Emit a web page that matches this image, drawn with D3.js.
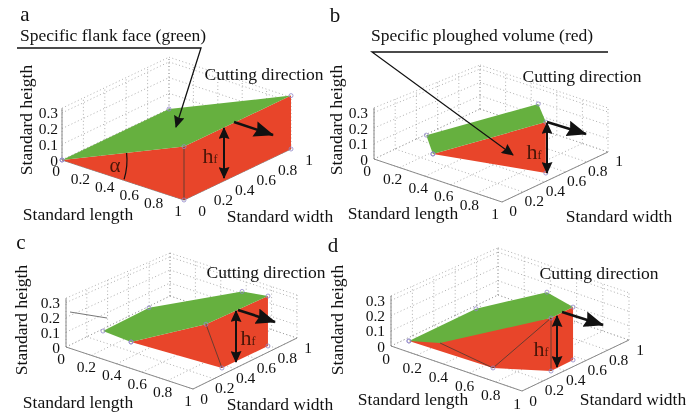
<!DOCTYPE html>
<html>
<head>
<meta charset="utf-8">
<script src="https://cdn.jsdelivr.net/npm/d3@7"></script>
<style>
  html, body { margin: 0; padding: 0; background: #fff; }
  svg { filter: blur(0.35px); }
  text { font-family: "Liberation Serif", serif; fill: #111; }
</style>
</head>
<body>
<div id="chart"></div>
<script>
// Shared axis ticks
const lengthTicks = [0, 0.2, 0.4, 0.6, 0.8, 1];
const widthTicks = [0, 0.2, 0.4, 0.6, 0.8, 1];
const heightTicks = [0, 0.1, 0.2, 0.3];
const heightTop = 0.33;

// Surface vertices as [length, width, height]
const greenA = [[0, 0, 0], [1, 0, 0.34], [1, 1, 0.34], [0, 1, 0]];
const redA = [[0, 0, 0], [1, 0, 0.34], [1, 1, 0.34], [1, 1, 0], [1, 0, 0]];
const edgesA = [[[1, 0, 0], [1, 0, 0.34]]];

const greenB = [[0.22, 0.29, 0], [0.16, 0.30, 0.106], [0.72, 0.68, 0.371], [0.92, 0.51, 0.354]];
const redB = [[0.22, 0.29, 0], [0.92, 0.51, 0.354], [0.92, 0.51, 0]];
const edgesB = [];

const greenC = [[0.16, 0.16, 0.1], [0.426, 0.278, 0.3], [0.759, 0.766, 0.36], [0.94, 0.794, 0.373], [0.85, 0.308, 0.3], [0.258, 0.31, 0]];
const redC = [[0.258, 0.31, 0], [0.85, 0.308, 0.3], [0.94, 0.794, 0.373], [0.94, 0.794, 0], [0.935, 0.358, 0]];
const edgesC = [[[0.85, 0.308, 0.3], [0.935, 0.358, 0]]];

// the kink on the lower green edge has no marker in the original
const kinkD = [0.19, 0.226, 0];
const greenD = [[0.033, 0.127, 0], [0.449, 0.245, 0.3], [0.667, 0.641, 0.35], [0.938, 0.553, 0.36], [0.943, 0.341, 0.356], kinkD];
const redD = [[0.033, 0.127, 0], [0.943, 0.341, 0.356], [0.938, 0.553, 0.36], [0.938, 0.553, 0], [0.943, 0.341, 0], [0.657, 0.149, 0]];
const edgesD = [
  [kinkD, [0.657, 0.149, 0]],
  [[0.657, 0.149, 0], [0.943, 0.341, 0.356]],
  [[0.943, 0.341, 0.356], [0.943, 0.341, 0]]
];

const margin = { top: 0, right: 0, bottom: 0, left: 0 };
const width = 699 - margin.left - margin.right;
const height = 414 - margin.top - margin.bottom;

const red = "#e8452a";
const green = "#66b03f";

const svg = d3.select("#chart").append("svg")
    .attr("width", width)
    .attr("height", height)
    .style("display", "block");

const defs = svg.append("defs");
function addHead(id, w, h, refX) {
  defs.append("marker")
      .attr("id", id)
      .attr("markerUnits", "userSpaceOnUse")
      .attr("markerWidth", w)
      .attr("markerHeight", h)
      .attr("refX", refX)
      .attr("refY", h / 2)
      .attr("orient", "auto-start-reverse")
      .append("path")
      .attr("d", `M0,0L${w},${h / 2}L0,${h}L${w * 0.12},${h / 2}Z`)
      .attr("fill", "#111");
}
addHead("head-small", 12, 11, 11);
addHead("head-big", 20, 16, 19);

// Each panel: where the box sits on the page and its labels
const panels = [
  {
    letter: "a", letterAt: [25, 14], green: greenA, red: redA, edges: edgesA,
    origin: [62, 160], lengthVec: [122, 40], widthVec: [107, -51], heightPx: 157, shrink: 0,
    lengthOff: [-6, 10], widthOff: [18, 10], heightOff: -4,
    heigthAt: [26, 120], lengthAt: [78, 214], widthAt: [280, 216], cuttingAt: [264, 74],
    hArrow: [[224, 128], [224, 178]], hfAt: [210, 155], cutArrow: [[234, 122], [273, 135]]
  },
  {
    letter: "b", letterAt: [335, 15], green: greenB, red: redB, edges: edgesB,
    origin: [374, 159], lengthVec: [128, 43], widthVec: [106, -50], heightPx: 155, shrink: 0.14,
    lengthOff: [-7, 11], widthOff: [11, 8], heightOff: -6,
    heigthAt: [336, 120], lengthAt: [403, 213], widthAt: [619, 216], cuttingAt: [582, 76],
    hArrow: [[547, 123], [547, 173]], hfAt: [534, 151], cutArrow: [[547, 122], [586, 134]]
  },
  {
    letter: "c", letterAt: [21, 242], green: greenC, red: redC, edges: edgesC,
    origin: [66, 347], lengthVec: [127, 42], widthVec: [104, -51], heightPx: 148, shrink: 0.12,
    lengthOff: [-5, 11], widthOff: [11, 9], heightOff: -6,
    heigthAt: [21, 320], lengthAt: [78, 402], widthAt: [280, 404], cuttingAt: [266, 272],
    hArrow: [[236, 311], [236, 362]], hfAt: [248, 337], cutArrow: [[238, 310], [275, 322]]
  },
  {
    letter: "d", letterAt: [333, 245], green: greenD, red: redD, edges: edgesD,
    origin: [391, 346], lengthVec: [131, 45], widthVec: [107, -51], heightPx: 152, shrink: 0.06,
    lengthOff: [-5, 12], widthOff: [11, 9], heightOff: -6,
    heigthAt: [337, 320], lengthAt: [413, 399], widthAt: [633, 399], cuttingAt: [599, 273],
    hArrow: [[557, 316], [557, 367]], hfAt: [541, 348], cutArrow: [[562, 312], [603, 325]]
  }
];

function drawPanel(p) {
  const g = svg.append("g").attr("class", "panel-" + p.letter);

  // Oblique box: length and width each move along x and y on the page
  const lenX = d3.scaleLinear().domain([0, 1]).range([0, p.lengthVec[0]]);
  const lenY = d3.scaleLinear().domain([0, 1]).range([0, p.lengthVec[1]]);
  const widX = d3.scaleLinear().domain([0, 1]).range([0, p.widthVec[0]]);
  const widY = d3.scaleLinear().domain([0, 1]).range([0, p.widthVec[1]]);
  const hgt = d3.scaleLinear().domain([0, 1]).range([0, p.heightPx]);

  const px = d => p.origin[0] + lenX(d[0]) + widX(d[1]);
  const py = d => p.origin[1] + lenY(d[0]) + widY(d[1]) - hgt(d[2]) * (1 - p.shrink * d[1]);
  const line = d3.line().x(px).y(py);
  const closed = d3.line().x(px).y(py).curve(d3.curveLinearClosed);

  // Dotted grid on the floor and the two back walls
  const gridLines = [];
  lengthTicks.forEach(l => {
    gridLines.push([[l, 0, 0], [l, 1, 0]]);
    gridLines.push([[l, 1, 0], [l, 1, heightTop]]);
  });
  widthTicks.forEach(w => {
    gridLines.push([[0, w, 0], [1, w, 0]]);
    gridLines.push([[0, w, 0], [0, w, heightTop]]);
  });
  heightTicks.concat([heightTop]).forEach(h => {
    gridLines.push([[0, 0, h], [0, 1, h]]);
    gridLines.push([[0, 1, h], [1, 1, h]]);
  });
  g.selectAll(".grid").data(gridLines).enter().append("path")
      .attr("class", "grid")
      .attr("d", line)
      .attr("fill", "none")
      .attr("stroke", "#9a9a9a")
      .attr("stroke-width", 0.8)
      .attr("stroke-dasharray", "1 2.5");

  // Solid axes
  const axisLines = [
    [[0, 0, 0], [1, 0, 0]],
    [[1, 0, 0], [1, 1, 0]],
    [[0, 0, 0], [0, 0, heightTop]]
  ];
  g.selectAll(".axis").data(axisLines).enter().append("path")
      .attr("class", "axis")
      .attr("d", line)
      .attr("fill", "none")
      .attr("stroke", "#8a8a8a")
      .attr("stroke-width", 1);

  // Surfaces
  g.append("path").attr("d", closed(p.red)).attr("fill", red);
  g.append("path").attr("d", closed(p.green)).attr("fill", green);

  g.selectAll(".edge").data(p.edges).enter().append("path")
      .attr("class", "edge")
      .attr("d", line)
      .attr("fill", "none")
      .attr("stroke", "#5c3a30")
      .attr("stroke-width", 0.9);

  // Vertex markers
  const corners = p.green.filter(d => d !== kinkD).concat(p.red.filter(d => d[2] === 0));
  g.selectAll(".corner").data(corners).enter().append("circle")
      .attr("class", "corner")
      .attr("cx", px)
      .attr("cy", py)
      .attr("r", 2)
      .attr("fill", "none")
      .attr("stroke", "#8f86c8")
      .attr("stroke-width", 0.8);

  // Tick labels
  const fmt = d => String(d);
  g.selectAll(".len-tick").data(lengthTicks).enter().append("text")
      .attr("class", "len-tick")
      .attr("x", d => px([d, 0, 0]) + p.lengthOff[0])
      .attr("y", d => py([d, 0, 0]) + p.lengthOff[1])
      .attr("text-anchor", "middle").attr("dominant-baseline", "central")
      .attr("font-size", 15.5).text(fmt);
  g.selectAll(".wid-tick").data(widthTicks).enter().append("text")
      .attr("class", "wid-tick")
      .attr("x", d => px([1, d, 0]) + p.widthOff[0])
      .attr("y", d => py([1, d, 0]) + p.widthOff[1])
      .attr("text-anchor", "middle").attr("dominant-baseline", "central")
      .attr("font-size", 15.5).text(fmt);
  g.selectAll(".hgt-tick").data(heightTicks).enter().append("text")
      .attr("class", "hgt-tick")
      .attr("x", d => px([0, 0, d]) + p.heightOff)
      .attr("y", d => py([0, 0, d]))
      .attr("text-anchor", "end").attr("dominant-baseline", "central")
      .attr("font-size", 15.5).text(fmt);

  // Axis names
  const label = (txt, at) => g.append("text")
      .attr("x", at[0]).attr("y", at[1])
      .attr("text-anchor", "middle").attr("dominant-baseline", "central")
      .attr("font-size", 17.5).text(txt);
  label("Standard length", p.lengthAt);
  label("Standard width", p.widthAt);
  label("Cutting direction", p.cuttingAt);
  g.append("text")
      .attr("transform", `translate(${p.heigthAt[0]},${p.heigthAt[1]}) rotate(-90)`)
      .attr("text-anchor", "middle").attr("dominant-baseline", "central")
      .attr("font-size", 17.5).text("Standard heigth");
  g.append("text")
      .attr("x", p.letterAt[0]).attr("y", p.letterAt[1])
      .attr("text-anchor", "middle").attr("dominant-baseline", "central")
      .attr("font-size", 21).text(p.letter);

  // Height arrow and cutting direction arrow
  g.append("line")
      .attr("x1", p.hArrow[0][0]).attr("y1", p.hArrow[0][1])
      .attr("x2", p.hArrow[1][0]).attr("y2", p.hArrow[1][1])
      .attr("stroke", "#111").attr("stroke-width", 2)
      .attr("marker-start", "url(#head-small)")
      .attr("marker-end", "url(#head-small)");
  g.append("line")
      .attr("x1", p.cutArrow[0][0]).attr("y1", p.cutArrow[0][1])
      .attr("x2", p.cutArrow[1][0]).attr("y2", p.cutArrow[1][1])
      .attr("stroke", "#111").attr("stroke-width", 2.6)
      .attr("marker-end", "url(#head-big)");

  const hf = g.append("text")
      .attr("x", p.hfAt[0]).attr("y", p.hfAt[1])
      .attr("text-anchor", "middle").attr("dominant-baseline", "central")
      .attr("font-size", 22)
      .style("fill", "#4a1608");
  hf.append("tspan").text("h");
  hf.append("tspan").attr("font-size", 12).attr("dy", 4).text("f");
}

panels.forEach(drawPanel);

// Panel a: angle mark
const arcPath = d3.path();
arcPath.arc(62, 160, 65, -0.11, 0.30);
svg.append("path").attr("d", arcPath.toString())
    .attr("fill", "none").attr("stroke", "#111").attr("stroke-width", 1.2);
svg.append("text").attr("x", 115).attr("y", 165)
    .attr("text-anchor", "middle").attr("dominant-baseline", "central")
    .attr("font-size", 21).style("fill", "#4a1608").text("α");

// Leader lines with captions
svg.append("text").attr("x", 20).attr("y", 35)
    .attr("dominant-baseline", "central").attr("font-size", 17.5)
    .text("Specific flank face (green)");
svg.append("path").attr("d", "M17,48L201,48L176,127")
    .attr("fill", "none").attr("stroke", "#111").attr("stroke-width", 1.3)
    .attr("marker-end", "url(#head-small)");

svg.append("text").attr("x", 371).attr("y", 35)
    .attr("dominant-baseline", "central").attr("font-size", 17.5)
    .text("Specific ploughed volume (red)");
svg.append("path").attr("d", "M608,52L372,52L513,155")
    .attr("fill", "none").attr("stroke", "#111").attr("stroke-width", 1.3)
    .attr("marker-end", "url(#head-small)");

// Panel c: stray line left in the original figure
svg.append("path").attr("d", "M70,312L107,318")
    .attr("fill", "none").attr("stroke", "#777").attr("stroke-width", 1);
</script>
</body>
</html>
